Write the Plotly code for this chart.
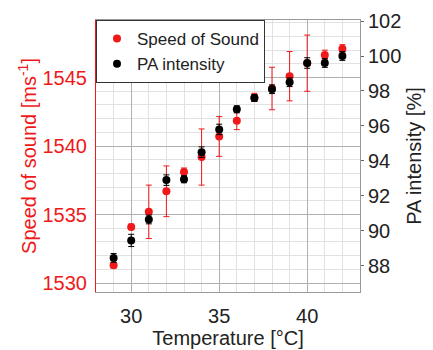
import plotly.graph_objects as go

temperature = [29, 30, 31, 32, 33, 34, 35, 36, 37, 38, 39, 40, 41, 42]
speed_of_sound = [1531.3, 1534.1, 1535.2, 1536.7, 1538.1, 1539.2, 1540.7, 1541.85, 1543.55, 1544.2, 1545.1, 1546.05, 1546.65, 1547.1]
speed_err = [0.2, 0.2, 1.95, 1.85, 0.3, 2.05, 1.45, 0.65, 0.3, 1.55, 1.8, 2.05, 0.35, 0.3]
pa_intensity = [88.45, 89.45, 90.65, 92.9, 92.95, 94.5, 95.8, 96.95, 97.6, 98.1, 98.5, 99.6, 99.6, 100.0]
pa_err = [0.25, 0.35, 0.25, 0.3, 0.2, 0.3, 0.3, 0.2, 0.2, 0.25, 0.25, 0.3, 0.25, 0.25]

RED = "#f01818"
FONT = "Liberation Sans, Arial, sans-serif"

fig = go.Figure()
fig.add_trace(go.Scatter(
    x=temperature, y=speed_of_sound, mode="markers", name="Speed of Sound",
    marker=dict(color=RED, size=8),
    error_y=dict(type="data", array=speed_err, color=RED, thickness=1, width=3),
    yaxis="y"))
fig.add_trace(go.Scatter(
    x=temperature, y=pa_intensity, mode="markers", name="PA intensity",
    marker=dict(color="black", size=8),
    error_y=dict(type="data", array=pa_err, color="black", thickness=1, width=3),
    yaxis="y2"))

fig.update_layout(
    width=433, height=350,
    margin=dict(l=96, r=73, t=20, b=58),
    paper_bgcolor="white", plot_bgcolor="white",
    font=dict(family=FONT, size=20, color="#222"),
    showlegend=True,
    legend=dict(x=0.0, y=1.0, xanchor="left", yanchor="top",
                bgcolor="white", bordercolor="#333", borderwidth=1,
                font=dict(size=17, color="#222"), tracegroupgap=0,
                itemwidth=30),
    xaxis=dict(range=[28, 43], tickvals=[30, 35, 40], showgrid=True, automargin=False,
               gridcolor="#b0b0b0", gridwidth=1,
               minor=dict(dtick=1, tick0=28, showgrid=True, gridcolor="#e2e2e2"),
               showline=True, linecolor="#999", mirror=True, zeroline=False,
               ticks="", ticklabelstandoff=6,
               title=dict(text="Temperature [°C]", font=dict(size=20), standoff=4),
               tickfont=dict(size=20)),
    yaxis=dict(range=[1529.35, 1549.2], tickvals=[1530, 1535, 1540, 1545], automargin=False,
               showgrid=True, gridcolor="#b0b0b0",
               minor=dict(dtick=1, tick0=1530, showgrid=True, gridcolor="#e2e2e2"),
               showline=True, linecolor=RED, zeroline=False, ticks="", ticklabelstandoff=4,
               tickfont=dict(color=RED, size=20),
               title=dict(text="Speed of sound [ms<sup>-1</sup>]", font=dict(color=RED, size=20), standoff=0)),
    yaxis2=dict(range=[86.5, 102.06], tickvals=[88, 90, 92, 94, 96, 98, 100, 102], automargin=False,
                overlaying="y", side="right", showgrid=False, zeroline=False,
                showline=True, linecolor="#999", ticks="outside", ticklen=3, tickcolor="#666",
                tickfont=dict(color="#222", size=20),
                title=dict(text="PA intensity [%]", font=dict(color="#222", size=20), standoff=6)),
)

fig.write_html("out.html", config={"displayModeBar": False},
               post_script="document.body.style.margin='0';")
